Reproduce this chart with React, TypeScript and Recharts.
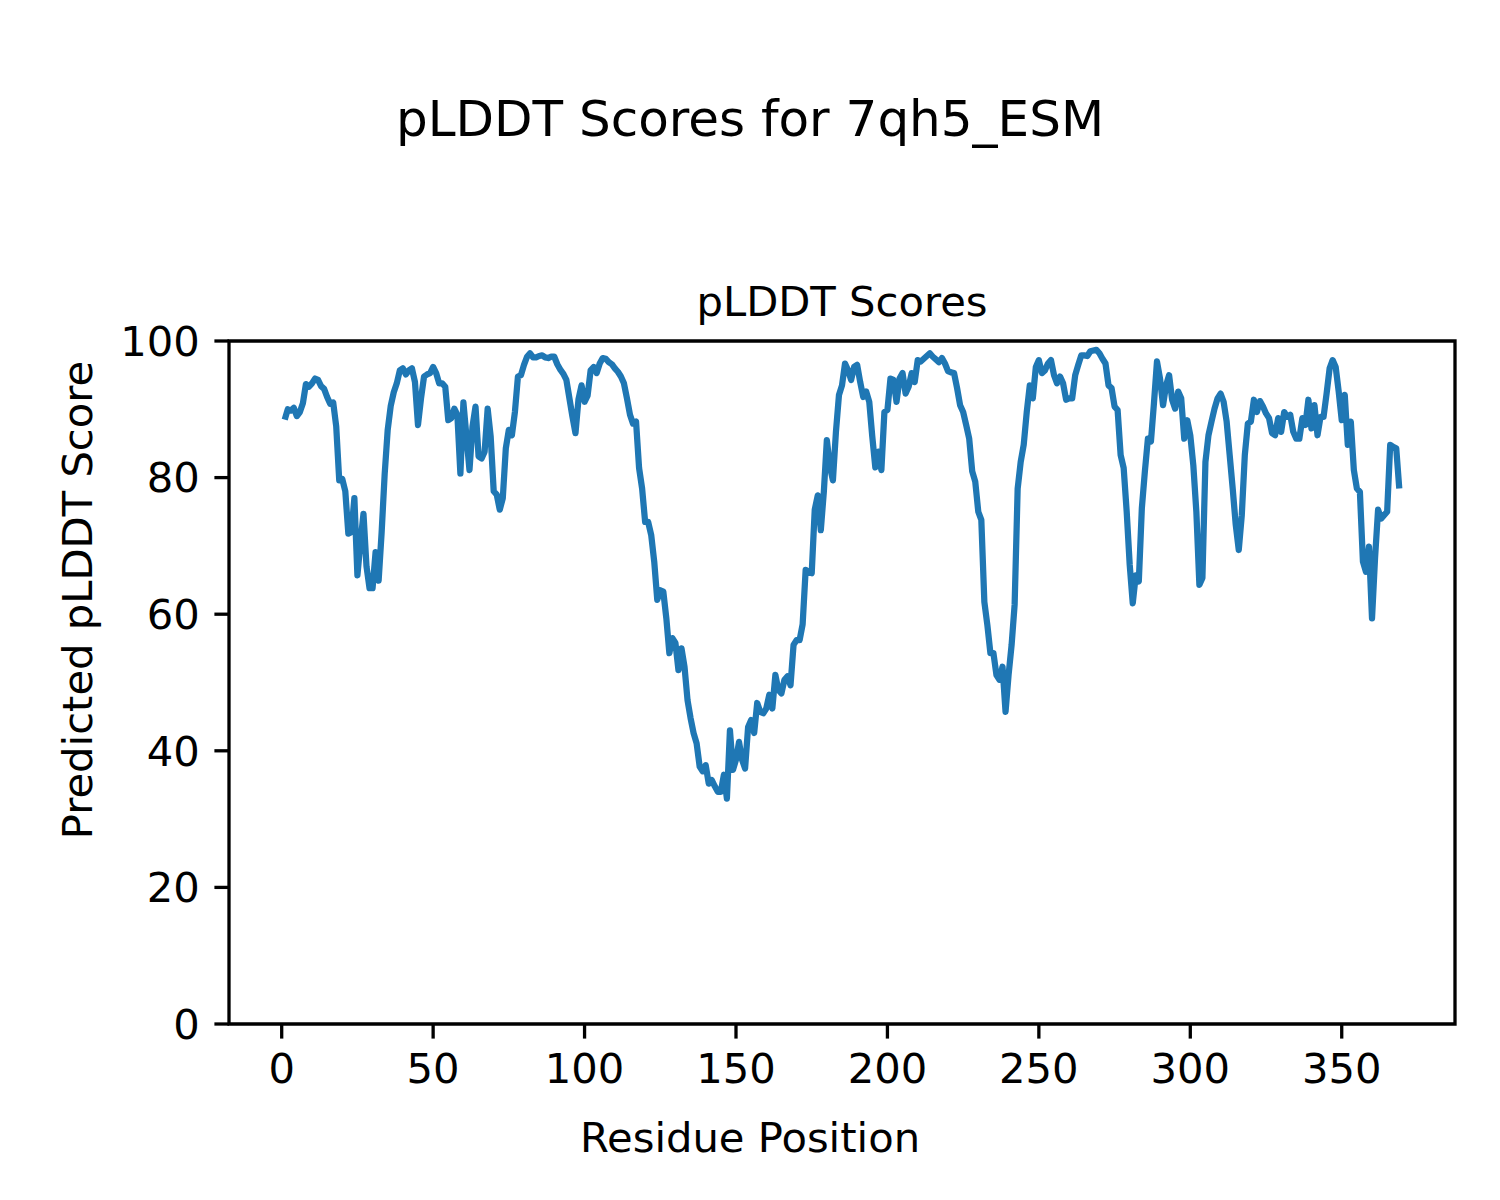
import { LineChart, Line, XAxis, YAxis, ReferenceArea } from 'recharts';

// pLDDT score per residue, residues 1..369
const plddt = [
  88.5, 90.0, 89.8, 90.2, 89.0, 89.6, 90.9, 93.7, 93.3, 93.8,
  94.5, 94.3, 93.4, 93.0, 91.8, 90.8, 91.0, 87.5, 79.6, 79.8,
  78.0, 71.8, 72.0, 77.0, 65.7, 70.5, 74.7, 67.0, 63.8, 63.8,
  69.1, 64.9, 72.0, 80.5, 87.0, 90.5, 92.5, 93.8, 95.7, 96.0,
  95.1, 95.7, 96.0, 94.0, 87.7, 91.6, 94.8, 95.1, 95.3, 96.2,
  95.3, 93.8, 93.8, 93.3, 88.4, 88.7, 90.1, 89.2, 80.6, 91.0,
  86.0, 81.1, 87.5, 90.4, 83.1, 82.8, 83.8, 90.1, 86.0, 78.0,
  77.5, 75.3, 77.0, 84.3, 87.0, 86.2, 89.6, 94.8, 95.0, 96.5,
  97.7, 98.2, 97.6, 97.6, 97.8, 97.9, 97.6, 97.5, 97.7, 97.7,
  96.6, 95.8, 95.2, 94.3, 91.6, 88.9, 86.5, 91.5, 93.5, 91.1,
  92.0, 95.7, 96.2, 95.3, 96.7, 97.5, 97.4, 96.9, 96.6, 96.0,
  95.5, 94.8, 93.8, 91.6, 89.2, 87.9, 88.2, 81.4, 78.4, 73.5,
  73.5, 71.6, 67.7, 62.1, 63.5, 63.3, 59.4, 54.3, 56.5, 55.8,
  51.8, 55.0, 52.3, 47.4, 44.8, 42.6, 41.1, 37.7, 37.0, 37.9,
  35.2, 35.7, 34.8, 34.0, 34.0, 36.5, 33.0, 43.0, 37.2, 38.7,
  41.3, 38.7, 37.4, 43.5, 44.5, 42.6, 47.0, 45.7, 45.5, 46.2,
  48.2, 46.2, 51.1, 48.9, 48.4, 50.4, 50.9, 49.6, 55.5, 56.2,
  56.2, 58.5, 66.5, 66.2, 66.0, 75.3, 77.4, 72.3, 77.9, 85.5,
  81.6, 79.6, 86.7, 92.1, 93.5, 96.7, 95.7, 94.3, 96.2, 96.5,
  94.0, 91.8, 92.6, 91.1, 86.0, 81.5, 83.8, 81.1, 89.6, 89.9,
  94.5, 94.3, 91.1, 94.5, 95.3, 92.3, 93.3, 95.3, 94.0, 97.2,
  97.0, 97.4, 97.8, 98.2, 97.7, 97.3, 96.9, 97.5, 96.7, 95.6,
  95.4, 95.3, 93.1, 90.6, 89.6, 87.7, 85.7, 80.9, 79.4, 75.0,
  73.8, 61.8, 58.4, 54.3, 54.3, 51.1, 50.4, 52.3, 45.7, 51.1,
  55.5, 61.4, 78.4, 82.3, 84.8, 89.6, 93.5, 91.6, 96.2, 97.2,
  95.3, 95.7, 96.7, 97.2, 95.0, 93.8, 94.8, 93.8, 91.4, 91.6,
  91.6, 95.0, 96.5, 97.9, 97.9, 97.8, 98.5, 98.6, 98.7, 98.2,
  97.4, 96.7, 93.5, 93.1, 90.4, 89.9, 83.3, 81.4, 75.0, 67.2,
  61.6, 65.7, 64.8, 75.5, 80.9, 85.7, 85.3, 90.9, 97.0, 94.5,
  90.6, 93.5, 95.0, 91.4, 90.1, 92.6, 91.6, 85.7, 88.4, 86.2,
  81.8, 75.0, 64.3, 65.3, 82.3, 86.2, 88.2, 90.1, 91.6, 92.3,
  91.1, 88.2, 83.3, 78.4, 73.1, 69.4, 74.5, 83.3, 87.9, 88.2,
  91.4, 89.6, 91.2, 90.4, 89.4, 88.7, 86.5, 86.2, 88.7, 86.7,
  89.6, 88.9, 89.2, 86.7, 85.7, 85.7, 88.7, 87.7, 91.4, 87.2,
  90.6, 86.2, 88.9, 88.9, 92.3, 96.0, 97.2, 96.2, 92.6, 88.4,
  92.1, 84.8, 88.2, 81.1, 78.4, 77.9, 67.7, 66.2, 69.9, 59.4,
  68.2, 75.3, 74.0, 74.5, 75.0, 84.8, 84.5, 84.3, 78.4,
];

const xTicks = [0, 50, 100, 150, 200, 250, 300, 350];
const yTicks = [0, 20, 40, 60, 80, 100];

const data = plddt.map((score, i) => ({ residue: i + 1, score }));

const FONT = '"DejaVu Sans", sans-serif';
const tickStyle = { fontSize: 41.7, fill: '#000', fontFamily: FONT };
const tickLine = { stroke: '#000', strokeWidth: 3.3 };

export default function App() {
  return (
    <div style={{ position: 'absolute', left: 0, top: 0, width: 1500, height: 1200, background: '#fff' }}>
      <LineChart width={1500} height={1200} data={data} margin={{ top: 341, right: 45, bottom: 76, left: 129 }}>
        <XAxis
          type="number"
          dataKey="residue"
          domain={[-17.4, 387.4]}
          ticks={xTicks}
          interval={0}
          allowDataOverflow
          height={100}
          tickSize={14.6}
          tickMargin={14.6}
          axisLine={false}
          tickLine={tickLine}
          tick={tickStyle}
        />
        <YAxis
          type="number"
          domain={[0, 100]}
          ticks={yTicks}
          interval={0}
          width={100}
          tickSize={14.6}
          tickMargin={14.6}
          axisLine={false}
          tickLine={tickLine}
          tick={tickStyle}
        />
        <ReferenceArea x1={-17.4} x2={387.4} y1={0} y2={100} fill="none" stroke="#000" strokeWidth={3.3} ifOverflow="visible" />
        <Line
          type="linear"
          dataKey="score"
          stroke="#1f77b4"
          strokeWidth={6.25}
          strokeLinejoin="round"
          dot={false}
          activeDot={false}
          isAnimationActive={false}
        />
      </LineChart>
      <svg
        width={1500}
        height={1200}
        style={{ position: 'absolute', left: 0, top: 0, pointerEvents: 'none' }}
        fontFamily={FONT}
      >
        <text x={750} y={136} fontSize={50} textAnchor="middle" fill="#000">
          pLDDT Scores for 7qh5_ESM
        </text>
        <text x={842} y={316} fontSize={41.7} textAnchor="middle" fill="#000">
          pLDDT Scores
        </text>
        <text x={750} y={1152} fontSize={41.7} textAnchor="middle" fill="#000">
          Residue Position
        </text>
        <text x={92} y={600} fontSize={41.7} textAnchor="middle" fill="#000" transform="rotate(-90 92 600)">
          Predicted pLDDT Score
        </text>
      </svg>
    </div>
  );
}
